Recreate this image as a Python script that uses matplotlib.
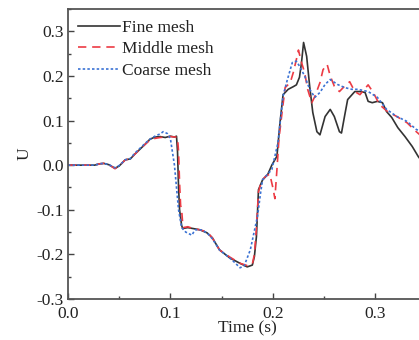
import matplotlib
matplotlib.use("Agg")
import matplotlib.pyplot as plt
from matplotlib.ticker import MultipleLocator

plt.rcParams['font.family'] = ['Liberation Serif', 'DejaVu Serif']
plt.rcParams['mathtext.fontset'] = 'stix'

# Fine mesh
fine_t = [0.0, 0.026, 0.031, 0.035, 0.040, 0.046, 0.050, 0.056, 0.061, 0.065, 0.070, 0.075, 0.080, 0.085,
          0.090, 0.095, 0.100, 0.104, 0.106, 0.107, 0.108, 0.109, 0.111, 0.112, 0.117, 0.122, 0.129, 0.136,
          0.141, 0.148, 0.158, 0.168, 0.175, 0.180, 0.182, 0.184, 0.186, 0.190, 0.195, 0.199, 0.204, 0.207,
          0.210, 0.215, 0.220, 0.223, 0.226, 0.228, 0.230, 0.233, 0.236, 0.239, 0.243, 0.246, 0.251, 0.256,
          0.260, 0.265, 0.267, 0.270, 0.273, 0.280, 0.285, 0.290, 0.293, 0.297, 0.302, 0.307, 0.311, 0.316,
          0.322, 0.329, 0.336, 0.342, 0.350]
fine_u = [0.0, 0.0, 0.003, 0.004, 0.001, -0.007, -0.002, 0.012, 0.014, 0.024, 0.035, 0.046, 0.058, 0.063,
          0.064, 0.062, 0.065, 0.063, 0.065, 0.03, -0.05, -0.10, -0.135, -0.142, -0.140, -0.142, -0.145, -0.152,
          -0.163, -0.19, -0.208, -0.22, -0.228, -0.224, -0.205, -0.16, -0.055, -0.033, -0.021, 0.0, 0.02, 0.095,
          0.158, 0.17, 0.176, 0.18, 0.197, 0.23, 0.275, 0.244, 0.176, 0.118, 0.075, 0.068, 0.109, 0.125,
          0.109, 0.075, 0.072, 0.11, 0.147, 0.165, 0.165, 0.163, 0.143, 0.14, 0.143, 0.14, 0.12, 0.107,
          0.084, 0.064, 0.042, 0.019, -0.005]

# Middle mesh
mid_t = [0.0, 0.026, 0.031, 0.035, 0.040, 0.046, 0.050, 0.056, 0.061, 0.065, 0.070, 0.075, 0.080, 0.085,
         0.090, 0.095, 0.100, 0.105, 0.107, 0.108, 0.109, 0.110, 0.111, 0.112, 0.113, 0.117, 0.122, 0.129,
         0.136, 0.141, 0.148, 0.158, 0.168, 0.175, 0.180, 0.182, 0.184, 0.186, 0.189, 0.193, 0.197, 0.200,
         0.202, 0.204, 0.206, 0.209, 0.212, 0.217, 0.220, 0.223, 0.225, 0.228, 0.231, 0.234, 0.238, 0.241,
         0.246, 0.249, 0.253, 0.256, 0.260, 0.265, 0.270, 0.275, 0.280, 0.285, 0.293, 0.298, 0.304, 0.312,
         0.321, 0.331, 0.340, 0.350]
mid_u = [0.0, 0.0, 0.003, 0.004, 0.001, -0.008, -0.002, 0.012, 0.014, 0.024, 0.035, 0.046, 0.056, 0.060,
         0.062, 0.063, 0.064, 0.063, 0.062, 0.03, -0.04, -0.09, -0.10, -0.13, -0.14, -0.138, -0.142, -0.145,
         -0.150, -0.163, -0.19, -0.206, -0.22, -0.225, -0.222, -0.20, -0.14, -0.06, -0.035, -0.025, -0.02, -0.05,
         -0.075, -0.01, 0.06, 0.118, 0.174, 0.185, 0.208, 0.237, 0.258, 0.23, 0.208, 0.17, 0.14, 0.154,
         0.185, 0.214, 0.226, 0.2, 0.177, 0.165, 0.177, 0.187, 0.165, 0.158, 0.18, 0.163, 0.136, 0.12,
         0.109, 0.095, 0.075, 0.055]

# Coarse mesh
coarse_t = [0.0, 0.026, 0.031, 0.035, 0.040, 0.046, 0.050, 0.056, 0.061, 0.065, 0.070, 0.075, 0.080, 0.085,
            0.090, 0.093, 0.097, 0.100, 0.102, 0.104, 0.106, 0.108, 0.111, 0.115, 0.121, 0.124, 0.130, 0.136,
            0.141, 0.148, 0.160, 0.168, 0.172, 0.178, 0.185, 0.188, 0.190, 0.195, 0.199, 0.205, 0.210, 0.214,
            0.219, 0.223, 0.226, 0.231, 0.236, 0.241, 0.246, 0.251, 0.256, 0.263, 0.270, 0.277, 0.283, 0.293,
            0.302, 0.311, 0.321, 0.331, 0.340, 0.350]
coarse_u = [0.0, 0.0, 0.003, 0.004, 0.001, -0.006, -0.001, 0.012, 0.015, 0.026, 0.037, 0.048, 0.058, 0.065,
            0.070, 0.075, 0.071, 0.060, 0.030, 0.0, -0.05, -0.10, -0.14, -0.15, -0.157, -0.145, -0.145, -0.152,
            -0.165, -0.19, -0.212, -0.23, -0.226, -0.19, -0.115, -0.063, -0.033, -0.02, -0.01, 0.05, 0.155, 0.19,
            0.23, 0.233, 0.222, 0.20, 0.17, 0.152, 0.163, 0.181, 0.192, 0.181, 0.174, 0.17, 0.17, 0.165,
            0.152, 0.125, 0.109, 0.098, 0.08, 0.07]

x_ticks = [0.0, 0.1, 0.2, 0.3]
x_tick_labels = ['0.0', '0.1', '0.2', '0.3']
y_ticks = [-0.3, -0.2, -0.1, 0.0, 0.1, 0.2, 0.3]
y_tick_labels = ['-0.3', '-0.2', '-0.1', '0.0', '0.1', '0.2', '0.3']

fig = plt.figure(figsize=(4.19, 3.40), dpi=100)
ax = fig.add_axes([0.162, 0.1206, 0.856, 0.8529])

ax.plot(fine_t, fine_u, color='#333333', lw=1.2, label='Fine mesh')
ax.plot(mid_t, mid_u, color='#ec3b44', lw=1.2, ls=(0, (5, 3.5)), label='Middle mesh')
ax.plot(coarse_t, coarse_u, color='#3a72d4', lw=1.2, ls=(0, (1.5, 1.3)), label='Coarse mesh')

ax.set_xlim(0, 0.35)
ax.set_ylim(-0.3, 0.35)
ax.xaxis.set_minor_locator(MultipleLocator(0.05))
ax.yaxis.set_minor_locator(MultipleLocator(0.05))
ax.set_xticks(x_ticks)
ax.set_xticklabels(x_tick_labels)
ax.set_yticks(y_ticks)
ax.set_yticklabels(y_tick_labels)
ax.tick_params(which='both', direction='in', colors='#444444', labelcolor='#222222', labelsize=12.5, width=1.0)
ax.tick_params(axis='x', which='major', length=4, pad=5)
ax.tick_params(axis='y', which='major', length=4, pad=3)
ax.tick_params(which='minor', length=2.5)
for s in ax.spines.values():
    s.set_color('#555555')
    s.set_linewidth(1.3)

ax.set_xlabel('Time (s)', fontsize=12.5, labelpad=-1, color='#222222')
ax.set_ylabel('U', fontsize=12.5, labelpad=3, color='#222222')

leg = ax.legend(loc='upper left', frameon=False, fontsize=12.5, handlelength=2.4,
                handletextpad=0.1, labelspacing=0.33, borderaxespad=0.0,
                bbox_to_anchor=(0.01, 0.988))
for t in leg.get_texts():
    t.set_color('#222222')

fig.savefig('out.png', dpi=100)
